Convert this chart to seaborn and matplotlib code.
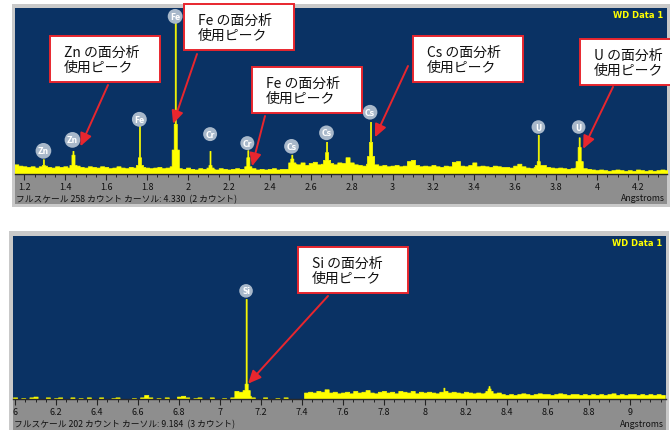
import numpy as np
import pandas as pd
import matplotlib
matplotlib.use('Agg')
from matplotlib import pyplot as plt
from matplotlib.patches import Rectangle
from matplotlib.ticker import MultipleLocator, FuncFormatter
import seaborn as sns

W, H = 670, 431
CH = 0.005  # チャンネル幅 (Angstrom)

# ---- 上段スペクトル (1.15 - 4.35 A, 0.02 A 毎のバックグラウンド) ----
top_start = 1.15
top_base = [
    15, 13, 12, 11, 12, 10, 12, 13, 11, 10, 12, 11, 12, 10, 11, 13, 11, 10, 12, 11,
    10, 12, 11, 9, 10, 12, 10, 9, 11, 10, 9, 11, 10, 9, 10, 11, 9, 10, 12, 11,
    9, 8, 10, 8, 7, 9, 8, 10, 8, 7, 9, 8, 7, 8, 9, 8, 7, 8, 9, 7,
    8, 7, 8, 9, 7, 8, 8, 14, 16, 15, 18, 14, 17, 19, 15, 16, 22, 17, 15, 18,
    17, 26, 18, 15, 14, 13, 16, 20, 15, 13, 14, 12, 13, 14, 12, 13, 20, 22, 14, 12,
    13, 12, 14, 12, 11, 13, 12, 19, 20, 13, 12, 14, 18, 12, 13, 12, 11, 13, 12, 11,
    11, 10, 13, 16, 12, 10, 9, 11, 12, 14, 11, 10, 9, 10, 9, 8, 9, 10, 12, 9,
    8, 7, 6, 7, 6, 5, 6, 7, 6, 5, 6, 5, 7, 6, 5, 6, 5, 6, 7, 6,
]
top_peak_pos = [1.293, 1.435, 1.762, 1.937, 2.108, 2.290, 2.506, 2.677, 2.890, 3.713, 3.910]
top_peak_top = [23, 36, 75, 235, 36, 37, 30, 50, 81, 61, 57]
top_peak_core = [14, 30, 26, 78, 14, 26, 24, 34, 50, 20, 42]
top_peak_base = [10, 14, 14, 38, 10, 12, 18, 22, 28, 14, 20]
top_lab_el = ['Zn', 'Zn', 'Fe', 'Fe', 'Cr', 'Cr', 'Cs', 'Cs', 'Cs', 'U', 'U']
top_lab_y = [36, 53, 85, 245, 62, 48, 43, 64, 96, 73, 73]

# ---- 下段スペクトル (5.99 - 9.19 A) ----
bot_start = 5.99
bot_base = [
    2, 0, 1, 0, 2, 3, 0, 0, 2, 0, 1, 2, 0, 0, 2, 0, 1, 0, 2, 0,
    0, 2, 0, 0, 1, 2, 0, 0, 0, 1, 0, 2, 5, 2, 0, 1, 0, 2, 0, 0,
    3, 4, 2, 0, 1, 2, 0, 0, 2, 0, 0, 1, 0, 2, 10, 9, 3, 4, 2, 0,
    0, 2, 0, 0, 1, 0, 2, 0, 0, 0, 0, 8, 9, 8, 10, 9, 12, 8, 9, 7,
    8, 9, 7, 10, 8, 9, 11, 8, 7, 9, 10, 8, 9, 7, 10, 9, 8, 10, 7, 9,
    8, 9, 8, 7, 9, 10, 8, 9, 8, 7, 9, 8, 7, 8, 7, 8, 9, 7, 8, 6,
    5, 6, 5, 6, 7, 6, 5, 6, 7, 6, 6, 5, 6, 7, 6, 5, 6, 6, 5, 6,
    5, 6, 5, 6, 5, 6, 7, 5, 6, 5, 6, 6, 5, 6, 5, 6, 5, 6, 5, 0,
]
bot_peak_pos = [7.127, 8.093, 8.310]
bot_peak_top = [124, 14, 16]
bot_peak_core = [19, 9, 13]
bot_peak_base = [11, 8, 10]
bot_lab_el = ['Si']
bot_lab_y = [134]

# 注釈 (元素, 箱の左上 px, 矢印の始点 px, 矢印の先 (A, counts))
top_notes = [
    ('Zn', (50, 37), (108, 86), (1.474, 43)),
    ('Fe', (184, 5), (197, 55), (1.927, 78)),
    ('Fe', (252, 68), (265, 117), (2.313, 12)),
    ('Cs', (413, 37), (408, 67), (2.914, 57)),
    ('U', (580, 40), (613, 88), (3.932, 39)),
]
bot_notes = [
    ('Si', (298, 248), (328, 297), (7.137, 19)),
]

NAVY = '#0a3264'
YELLOW = '#ffff00'
STRIP = '#8e8e8e'
BORDER = '#c9c9c9'
BUBBLE = '#a8b8ca'
RED = '#e8262e'

sns.set_theme(style='white')
plt.rcParams['font.family'] = ['Noto Sans CJK JP', 'DejaVu Sans']


def fx(x):
    return x / W


def fy(y):
    return 1 - y / H


def fine_spectrum(start, baseline, pos, top, core, base):
    counts = np.repeat(np.array(baseline, float), 4)
    for p, t, c, b in zip(pos, top, core, base):
        i = int((p - start) / CH)
        counts[i - 3:i + 4] = np.maximum(counts[i - 3:i + 4], b)
        counts[i - 1:i + 2] = np.maximum(counts[i - 1:i + 2], c)
        counts[i] = max(counts[i], t)
    centers = start + CH * (np.arange(len(counts)) + 0.5)
    return centers, counts


def frame(box, strip):
    l, t, r, b = box
    fig.add_artist(Rectangle((fx(l), fy(b)), (r - l) / W, (b - t) / H,
                             transform=fig.transFigure, fc=BORDER, ec='none', zorder=-3))
    l, t, r, b = strip
    fig.add_artist(Rectangle((fx(l), fy(b)), (r - l) / W, (b - t) / H,
                             transform=fig.transFigure, fc=STRIP, ec='none', zorder=-2))


def panel(rect, start, base, pos, top, core, base_w, xlim, ymax, lab_el, lab_y):
    l, t, r, b = rect
    ax = fig.add_axes([fx(l), fy(b), (r - l) / W, (b - t) / H])
    centers, counts = fine_spectrum(start, base, pos, top, core, base_w)
    df = pd.DataFrame({'wl': centers, 'cnt': counts})
    sns.histplot(data=df, x='wl', weights='cnt', binwidth=CH,
                 binrange=(start, start + CH * len(counts)), element='step', fill=True,
                 color=YELLOW, alpha=1, linewidth=0.5, ax=ax)
    ax.set_facecolor(NAVY)
    ax.set_xlim(*xlim)
    ax.set_ylim(0, ymax)
    ax.set_xlabel('')
    ax.set_ylabel('')
    ax.set_yticks([])
    for s in ['top', 'left', 'right']:
        ax.spines[s].set_visible(False)
    ax.spines['bottom'].set_color('#2a2a2a')
    ax.spines['bottom'].set_linewidth(1)
    ax.xaxis.set_major_locator(MultipleLocator(0.2))
    ax.xaxis.set_minor_locator(MultipleLocator(0.05))
    ax.xaxis.set_major_formatter(FuncFormatter(lambda v, p: f'{round(v, 2):g}'))
    ax.tick_params(axis='x', which='major', direction='out', length=4, width=0.8,
                   color='#222222', pad=2, labelsize=6.5, labelcolor='#111111', bottom=True)
    ax.tick_params(axis='x', which='minor', direction='out', length=2.5, width=0.7,
                   color='#222222', bottom=True)
    for k, (el, y) in enumerate(zip(lab_el, lab_y)):
        ax.text(pos[k], y, el, ha='center', va='center', fontsize=5.5, color='white',
                fontweight='bold', family='DejaVu Sans',
                bbox=dict(boxstyle='circle,pad=0.3', fc=BUBBLE, ec='none'))
    ax.text(0.995, 0.96, 'WD Data 1', transform=ax.transAxes, ha='right', va='center',
            fontsize=6, color=YELLOW, family='DejaVu Sans', fontweight='bold')
    return ax


def notes(ax, items):
    for el, (bl, bt), (sx, sy), tip in items:
        fig.add_artist(Rectangle((fx(bl), fy(bt + 46)), 110 / W, 46 / H,
                                 transform=fig.transFigure, fc='white', ec=RED,
                                 lw=1.4, zorder=5))
        fig.text(fx(bl + 14), fy(bt + 16), f'{el} の面分析', fontsize=10,
                 va='center', ha='left', color='#111111', zorder=6)
        fig.text(fx(bl + 14), fy(bt + 31), '使用ピーク', fontsize=10,
                 va='center', ha='left', color='#111111', zorder=6)
        ax.annotate('', xy=tip, xycoords='data', xytext=(sx, H - sy),
                    textcoords='figure pixels', annotation_clip=False,
                    arrowprops=dict(arrowstyle='-|>,head_length=0.55,head_width=0.25',
                                    color=RED, lw=1.4, mutation_scale=14,
                                    shrinkA=0, shrinkB=0))


fig = plt.figure(figsize=(W / 100, H / 100), dpi=100)
fig.patch.set_facecolor('white')

# 上段
frame((12, 5, 670, 208), (15, 175, 667, 205))
ax1 = panel((15, 9, 667, 175), top_start, top_base, top_peak_pos, top_peak_top,
            top_peak_core, top_peak_base, (1.154, 4.342), 258, top_lab_el, top_lab_y)
fig.text(fx(16), fy(200), 'フルスケール 258 カウント カーソル: 4.330  (2 カウント)',
         fontsize=6.3, va='center', ha='left', color='#111111')
fig.text(fx(665), fy(199), 'Angstroms', fontsize=6.3, va='center', ha='right',
         color='#111111')
notes(ax1, top_notes)

# 下段
frame((9, 232, 669, 431), (13, 400, 666, 431))
ax2 = panel((13, 237, 666, 400), bot_start, bot_base, bot_peak_pos, bot_peak_top,
            bot_peak_core, bot_peak_base, (5.99, 9.176), 202, bot_lab_el, bot_lab_y)
fig.text(fx(14), fy(425), 'フルスケール 202 カウント カーソル: 9.184  (3 カウント)',
         fontsize=6.3, va='center', ha='left', color='#111111')
fig.text(fx(664), fy(425), 'Angstroms', fontsize=6.3, va='center', ha='right',
         color='#111111')
notes(ax2, bot_notes)

fig.savefig('out.png', dpi=100)
